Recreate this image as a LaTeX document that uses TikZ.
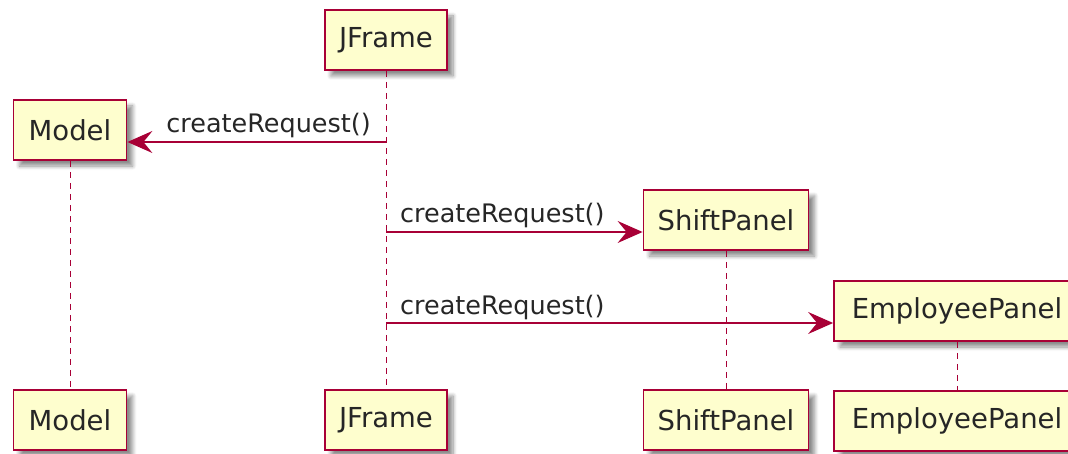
\documentclass[tikz,border=0pt]{standalone}
\usepackage{fontspec}
\setmainfont{DejaVu Sans}
\usetikzlibrary{arrows.meta,shadows.blur}
\definecolor{umlred}{HTML}{A80036}
\definecolor{umlfill}{HTML}{FEFECE}
\tikzset{
  part/.style={draw=umlred, fill=umlfill, line width=1.8pt, minimum height=60pt, inner sep=0pt,
    font=\fontsize{27.5}{32}\selectfont, text=black!85,
    blur shadow={shadow xshift=6pt, shadow yshift=-6pt, shadow blur steps=8, shadow blur radius=4pt, shadow opacity=45}},
  lifeline/.style={draw=umlred, line width=0.9pt, dash pattern=on 6pt off 5pt},
  msg/.style={draw=umlred, line width=1.3pt, -{Stealth[length=25pt, width=22pt, inset=9pt]}},
  lbl/.style={font=\fontsize{25.5}{30}\selectfont, text=black!85, inner sep=0pt}
}
\begin{document}
\begin{tikzpicture}[x=1pt, y=-1pt]
\useasboundingbox (0,0) rectangle (1068,454);
% top participants
\node[part, minimum width=113pt] (mT) at (70,130) {Model};
\node[part, minimum width=122pt] (jT) at (386,40) {JFrame};
\node[part, minimum width=165pt] (sT) at (726,220) {ShiftPanel};
\node[part, minimum width=246pt] (eT) at (957,311) {EmployeePanel};
% bottom participants
\node[part, minimum width=113pt] (mB) at (70,420) {Model};
\node[part, minimum width=122pt] (jB) at (386,420) {JFrame};
\node[part, minimum width=165pt] (sB) at (726,420) {ShiftPanel};
\node[part, minimum width=246pt] (eB) at (957,421) {EmployeePanel};
% lifelines
\draw[lifeline] (mT.south) -- (mB.north);
\draw[lifeline] (jT.south) -- (jB.north);
\draw[lifeline] (sT.south) -- (sB.north);
\draw[lifeline] (eT.south) -- (eB.north);
% messages
\coordinate (a1) at (jT.south |- 0,142);
\coordinate (a2) at (jT.south |- 0,232);
\coordinate (a3) at (jT.south |- 0,323);
\draw[msg] (a1) -- (a1 -| mT.east);
\node[lbl, anchor=base east] (l1) at ($(a1)+(-15,-9)$) {createRequest()};
\draw[msg] (a2) -- (a2 -| sT.west);
\node[lbl, anchor=base west] (l2) at ($(a2)+(14,-9)$) {createRequest()};
\draw[msg] (a3) -- (a3 -| eT.west);
\node[lbl, anchor=base west] (l3) at ($(a3)+(14,-9)$) {createRequest()};
\end{tikzpicture}
\end{document}
